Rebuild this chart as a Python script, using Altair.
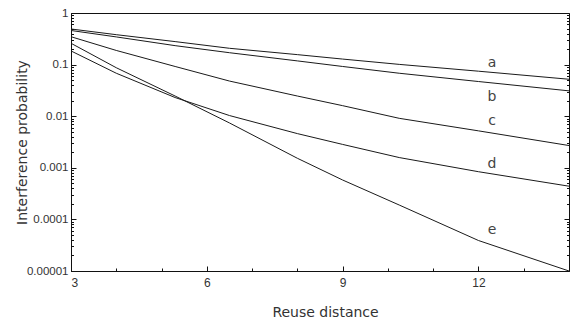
import altair as alt
import pandas as pd

# Reuse distance samples and the interference probability of each curve
reuse = [3, 4, 5.3, 6.5, 8, 9, 10.25, 12, 14]
curve_a = [0.49, 0.38, 0.279, 0.207, 0.156, 0.128, 0.101, 0.0745, 0.052]
curve_b = [0.458, 0.344, 0.233, 0.170, 0.118, 0.092, 0.068, 0.047, 0.031]
curve_c = [0.347, 0.188, 0.092, 0.048, 0.0246, 0.016, 0.0091, 0.0052, 0.0027]
curve_d = [0.184, 0.068, 0.023, 0.0103, 0.0046, 0.00284, 0.00158, 0.00084, 0.00044]
curve_e = [0.259, 0.087, 0.0246, 0.0074, 0.00153, 0.00058, 0.00019, 0.000039, 0.00001]

curve_names = ["a", "b", "c", "d", "e"]
label_x = [12.3, 12.3, 12.3, 12.3, 12.3]
label_y = [0.107, 0.0236, 0.0081, 0.00119, 0.000062]

x_major = [3, 6, 9, 12]
x_minor = [4, 5, 7, 8, 10, 11, 13]
y_decades = [0.00001, 0.0001, 0.001, 0.01, 0.1, 1]
y_minor = [k * 10.0 ** p for p in range(-5, 0) for k in range(2, 10)]

rows = []
for name, vals in zip(curve_names, [curve_a, curve_b, curve_c, curve_d, curve_e]):
    for xv, yv in zip(reuse, vals):
        rows.append({"reuse": xv, "prob": yv, "curve": name})
lines_df = pd.DataFrame(rows)
labels_df = pd.DataFrame({"reuse": label_x, "prob": label_y, "curve": curve_names})

W, H = 498, 258
TITLE_FONT = "DejaVu Sans"
LABEL_FONT = "Liberation Sans"
INK = "#111"

x_scale = alt.Scale(domain=[3, 14], nice=False, zero=False)
y_scale = alt.Scale(type="log", domain=[0.00001, 1], nice=False)


def tick_axis(orient, offset, values, size):
    """An unlabelled axis that only draws ticks, shifted onto a plot edge."""
    return alt.Axis(
        orient=orient, offset=offset, values=values, labels=False, domain=False,
        grid=False, title=None, tickSize=size, tickColor=INK, tickWidth=1,
    )


# Curves with the labelled axes (ticks come from the tick-only layers below)
lines = alt.Chart(lines_df).mark_line(color="#1a1a1a", strokeWidth=1).encode(
    x=alt.X(
        "reuse:Q",
        scale=x_scale,
        axis=alt.Axis(
            values=x_major, ticks=False, grid=False, labelPadding=6,
            labelFont=LABEL_FONT, labelFontSize=12, labelColor="#333",
            domainColor=INK, domainWidth=1,
            title="Reuse distance", titleFont=TITLE_FONT, titleFontSize=14,
            titleFontWeight="normal", titleColor="#333",
            titleX=254, titleY=41, titleAlign="center", titleBaseline="middle",
        ),
    ),
    y=alt.Y(
        "prob:Q",
        scale=y_scale,
        axis=alt.Axis(
            values=y_decades, format=".5~f", ticks=False, grid=False, labelPadding=3,
            labelFont=LABEL_FONT, labelFontSize=11.5, labelColor="#333",
            domainColor=INK, domainWidth=1,
            title="Interference probability", titleFont=TITLE_FONT, titleFontSize=14,
            titleFontWeight="normal", titleColor="#333",
            titleX=-49, titleY=129, titleAngle=-90,
            titleAlign="center", titleBaseline="middle",
        ),
    ),
    detail="curve:N",
)

# Curve letters; also carry inward major ticks on the bottom and left edges
labels = alt.Chart(labels_df).mark_text(font=TITLE_FONT, fontSize=14, color="#444").encode(
    x=alt.X("reuse:Q", scale=x_scale, axis=tick_axis("top", -H, x_major, 5)),
    y=alt.Y("prob:Q", scale=y_scale, axis=tick_axis("right", -W, y_decades, 5)),
    text="curve:N",
)


def hidden_ticks(x_axis, y_axis):
    """Invisible copy of the curves whose only job is inward tick axes."""
    return alt.Chart(lines_df).mark_line(strokeOpacity=0).encode(
        x=alt.X("reuse:Q", scale=x_scale, axis=x_axis),
        y=alt.Y("prob:Q", scale=y_scale, axis=y_axis),
        detail="curve:N",
    )


minor_bl = hidden_ticks(tick_axis("top", -H, x_minor, 3), tick_axis("right", -W, y_minor, 2.5))
right_minor = hidden_ticks(None, tick_axis("left", -W, y_minor, 2.5))
right_major = hidden_ticks(None, tick_axis("left", -W, y_decades, 5))

chart = (
    alt.layer(lines, labels, minor_bl, right_minor, right_major)
    .resolve_scale(x="independent", y="independent")
    .properties(
        width=W,
        height=H,
        autosize=alt.AutoSizeParams(type="none"),
        padding={"left": 71, "top": 13, "right": 1, "bottom": 55},
        background="white",
    )
    .configure_view(stroke=INK, strokeWidth=1)
)

chart.save("out.html", embed_options={"renderer": "svg", "actions": False})
